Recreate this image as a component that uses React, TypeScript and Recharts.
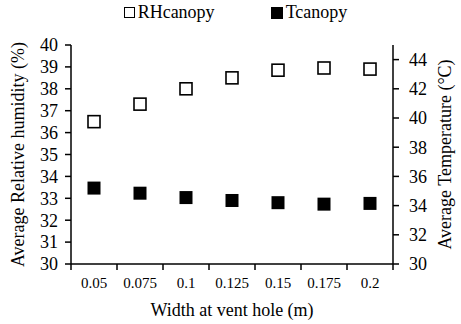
import React from 'react';
import { ComposedChart, Line, XAxis, YAxis, Legend } from 'recharts';

const widths = ['0.05', '0.075', '0.1', '0.125', '0.15', '0.175', '0.2'];
const rhCanopy = [36.5, 37.3, 38.0, 38.5, 38.85, 38.95, 38.9];
const tCanopy = [35.2, 34.85, 34.55, 34.35, 34.2, 34.1, 34.15];
const rhTicks = [30, 31, 32, 33, 34, 35, 36, 37, 38, 39, 40];
const tTicks = [30, 32, 34, 36, 38, 40, 42, 44];

const FONT = '"Liberation Serif", "Times New Roman", serif';

const data = widths.map((w, i) => ({ w, rh: rhCanopy[i], t: tCanopy[i] }));

const OpenSquare = (props: any) => {
  const { cx, cy } = props;
  if (cx == null || cy == null) return null;
  return <rect x={cx - 6} y={cy - 6} width={12} height={12} fill="#fff" stroke="#000" strokeWidth={1.6} />;
};

const FilledSquare = (props: any) => {
  const { cx, cy } = props;
  if (cx == null || cy == null) return null;
  return <rect x={cx - 6.5} y={cy - 6.5} width={13} height={13} fill="#000" />;
};

// labels at band centres, tick lines at band edges
const XTick = (props: any) => {
  const { x, y, payload, index, width, visibleTicksCount } = props;
  const half = payload.offset || width / visibleTicksCount / 2;
  return (
    <g>
      {index === 0 && <line x1={x - half} x2={x - half} y1={y} y2={y + 6} stroke="#000" strokeWidth={1.5} />}
      <line x1={x + half} x2={x + half} y1={y} y2={y + 6} stroke="#000" strokeWidth={1.5} />
      <text x={x} y={y + 24} textAnchor="middle" fontSize={15} fontFamily={FONT} fill="#000">
        {payload.value}
      </text>
    </g>
  );
};

const LegendContent = () => (
  <div style={{ display: 'flex', justifyContent: 'center', gap: 56, fontFamily: FONT, fontSize: 18, color: '#000', paddingLeft: 10 }}>
    <span style={{ display: 'flex', alignItems: 'center' }}>
      <span style={{ width: 9, height: 9, border: '1.5px solid #000', marginRight: 3, display: 'inline-block' }} />
      RHcanopy
    </span>
    <span style={{ display: 'flex', alignItems: 'center' }}>
      <span style={{ width: 12, height: 12, background: '#000', marginRight: 3, display: 'inline-block' }} />
      Tcanopy
    </span>
  </div>
);

const rotatedLabel = (text: string, cxOffset: number) => (props: any) => {
  const vb = props.viewBox;
  const cx = vb.x + cxOffset;
  const cy = vb.y + vb.height / 2;
  return (
    <text x={cx} y={cy} transform={`rotate(-90 ${cx} ${cy})`} textAnchor="middle" dominantBaseline="central"
      fontSize={18} fontFamily={FONT} fill="#000">
      {text}
    </text>
  );
};

export default function App() {
  return (
    <div style={{ position: 'absolute', left: 0, top: 0, width: 461, height: 324, background: '#fff' }}>
      <ComposedChart width={461} height={324} data={data} margin={{ top: 24, right: 0, bottom: 0, left: 0 }}>
        <Legend verticalAlign="top" content={<LegendContent />} wrapperStyle={{ top: 2, left: 0, width: 461 }} />
        <XAxis
          dataKey="w"
          scale="band"
          height={60}
          tickSize={0}
          tickMargin={0}
          interval={0}
          tick={<XTick />}
          axisLine={{ stroke: '#000', strokeWidth: 1.5 }}
          label={(p: any) => (
            <text x={p.viewBox.x + p.viewBox.width / 2} y={p.viewBox.y + 52} textAnchor="middle" fontSize={18} fontFamily={FONT} fill="#000">
              Width at vent hole (m)
            </text>
          )}
        />
        <YAxis
          yAxisId="left"
          width={71}
          domain={[30, 40]}
          ticks={rhTicks}
          interval={0}
          tickSize={6}
          tickMargin={7}
          axisLine={{ stroke: '#000', strokeWidth: 1.5 }}
          tickLine={{ stroke: '#000', strokeWidth: 1.5 }}
          tick={{ fill: '#000', fontSize: 18, fontFamily: FONT }}
          label={rotatedLabel('Average Relative humidity (%)', 18)}
        />
        <YAxis
          yAxisId="right"
          orientation="right"
          width={68}
          domain={[30, 45]}
          ticks={tTicks}
          interval={0}
          tickSize={6}
          tickMargin={10}
          axisLine={{ stroke: '#000', strokeWidth: 1.5 }}
          tickLine={{ stroke: '#000', strokeWidth: 1.5 }}
          tick={{ fill: '#000', fontSize: 18, fontFamily: FONT }}
          label={rotatedLabel('Average Temperature (\u00B0C)', 52)}
        />
        <Line yAxisId="left" dataKey="rh" stroke="none" dot={<OpenSquare />} activeDot={false} isAnimationActive={false} />
        <Line yAxisId="right" dataKey="t" stroke="none" dot={<FilledSquare />} activeDot={false} isAnimationActive={false} />
      </ComposedChart>
    </div>
  );
}
